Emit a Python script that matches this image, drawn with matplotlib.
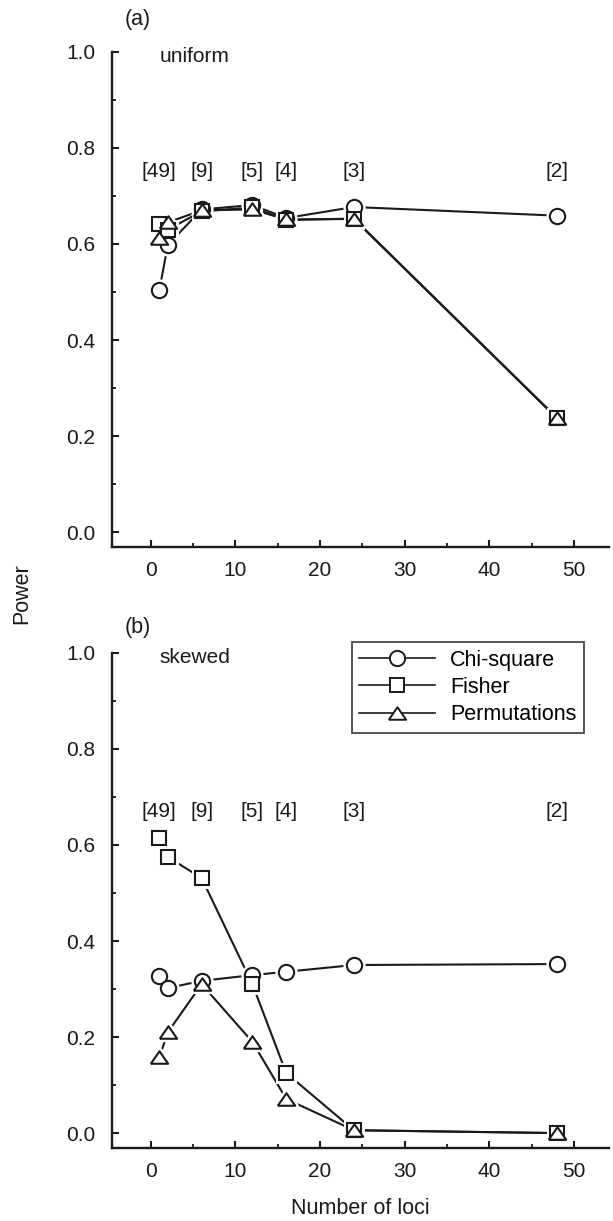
import matplotlib.pyplot as plt
from matplotlib.ticker import MultipleLocator

plt.rcParams['font.family'] = ['Liberation Sans', 'DejaVu Sans']

loci = [1, 2, 6, 12, 16, 24, 48]
alleles = ['[49]', '[9]', '[5]', '[4]', '[3]', '[2]']
allele_x = [1, 6, 12, 16, 24, 48]

# panel (a) uniform
chi_uni = [0.504, 0.598, 0.672, 0.681, 0.654, 0.677, 0.659]
fis_uni = [0.642, 0.630, 0.668, 0.676, 0.650, 0.653, 0.238]
perm_uni = [0.612, 0.645, 0.670, 0.672, 0.651, 0.652, 0.237]

# panel (b) skewed
chi_skw = [0.327, 0.302, 0.317, 0.329, 0.336, 0.350, 0.352]
fis_skw = [0.615, 0.575, 0.531, 0.310, 0.125, 0.006, 0.000]
perm_skw = [0.158, 0.210, 0.310, 0.190, 0.071, 0.006, 0.000]

ink = '#1a1a1a'
tri = [(-1, -0.72), (1, -0.72), (0, 0.72), (-1, -0.72)]  # wide triangle

fig = plt.figure(figsize=(6.13, 12.21), dpi=100)
ax1 = fig.add_axes([0.1827, 0.552, 0.81, 0.4055])
ax2 = fig.add_axes([0.1827, 0.0598, 0.81, 0.4055])

series = [('Chi-square', 'o', 11), ('Fisher', 's', 10.3), ('Permutations', tri, 12.5)]


def draw(ax, data, label_y, note):
    for (name, m, ms), y in zip(series, data):
        ax.plot(loci, y, color=ink, lw=1.5, zorder=2)
    # white halos so the lines stop short of the markers
    for (name, m, ms), y in zip(series, data):
        ax.plot(loci, y, ls='none', marker=m, ms=ms, mfc='white', mec='white',
                mew=5, zorder=3)
    for (name, m, ms), y in zip(series, data):
        ax.plot(loci, y, ls='none', marker=m, ms=ms, mfc='white', mec=ink,
                mew=1.5, zorder=4)
    for x, t in zip(allele_x, alleles):
        ax.text(x, label_y, t, ha='center', va='center', fontsize=15, color=ink)
    ax.text(1.0, 0.99, note, ha='left', va='center', fontsize=15, color=ink)

    ax.set_xlim(-4.6, 54.1)
    ax.set_ylim(-0.031, 1.0)
    ax.spines['top'].set_visible(False)
    ax.spines['right'].set_visible(False)
    for s in ('left', 'bottom'):
        ax.spines[s].set_linewidth(1.7)
        ax.spines[s].set_color(ink)
    ax.xaxis.set_minor_locator(MultipleLocator(5))
    ax.yaxis.set_minor_locator(MultipleLocator(0.1))
    ax.set_yticks([0, 0.2, 0.4, 0.6, 0.8, 1.0])
    ax.set_yticklabels(['0.0', '0.2', '0.4', '0.6', '0.8', '1.0'])
    ax.set_xticks([0, 10, 20, 30, 40, 50])
    ax.tick_params(which='major', direction='in', length=5, width=1.5,
                   labelsize=15, colors=ink)
    ax.tick_params(which='minor', direction='in', length=3, width=1.3,
                   colors=ink)
    ax.tick_params(axis='x', which='major', pad=10)
    ax.tick_params(axis='y', which='major', pad=12)


draw(ax1, [chi_uni, fis_uni, perm_uni], 0.75, 'uniform')
draw(ax2, [chi_skw, fis_skw, perm_skw], 0.669, 'skewed')

handles = [plt.Line2D([], [], color=ink, lw=1.2, marker=m, ms=ms,
                      mfc='white', mec=ink, mew=1.4)
           for name, m, ms in series]
leg = ax2.legend(handles, [s[0] for s in series], loc='upper right',
                 bbox_to_anchor=(0.95, 1.022), fontsize=15.5, handlelength=3.5,
                 frameon=True, fancybox=False, edgecolor=ink,
                 borderpad=0.35, labelspacing=0.3, handletextpad=0.7,
                 borderaxespad=0)
leg.get_frame().set_linewidth(1.3)

ax2.set_xlabel('Number of loci', fontsize=15.5, color=ink, labelpad=12)

fig.text(0.036, 0.514, 'Power', rotation=90, ha='center', va='center',
         fontsize=15.5, color=ink)
fig.text(0.225, 0.984, '(a)', ha='center', va='center', fontsize=15.5, color=ink)
fig.text(0.225, 0.486, '(b)', ha='center', va='center', fontsize=15.5, color=ink)

fig.savefig('out.png', dpi=100)
